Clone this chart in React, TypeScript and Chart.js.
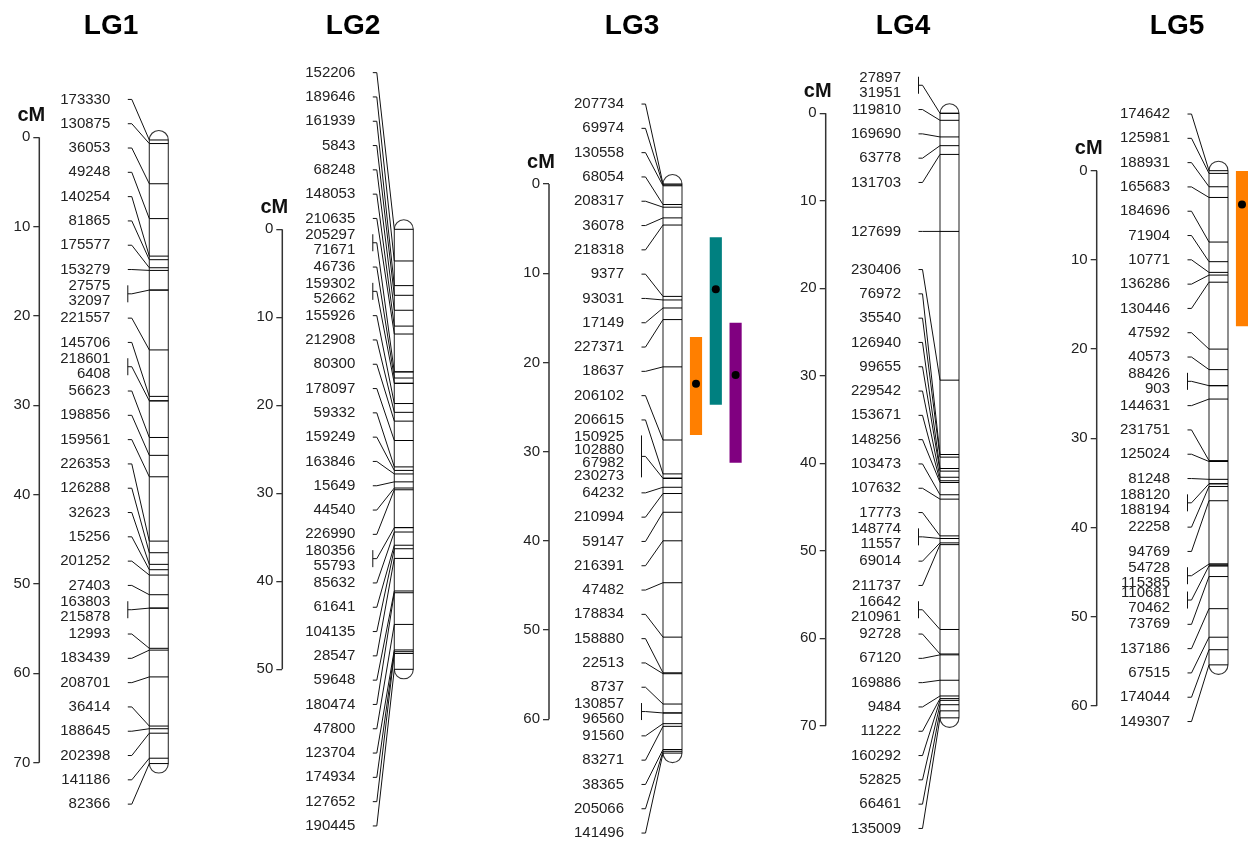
import React, { useEffect, useRef } from "react";
import { Chart, registerables } from "chart.js";
Chart.register(...registerables);

// ---------------- data ----------------
const linkageGroups = ["LG1", "LG2", "LG3", "LG4", "LG5"];
const axisMaxCm = [70, 50, 60, 70, 60];
const axisTickStep = 10;

const lg1Markers = ["173330","130875","36053","49248","140254","81865","175577","153279","27575","32097","221557","145706","218601","6408","56623","198856","159561","226353","126288","32623","15256","201252","27403","163803","215878","12993","183439","208701","36414","188645","202398","141186","82366"];
const lg1Cm = [0.3,0.7,5.2,9.1,13.3,13.7,14.6,14.9,17.1,17.1,23.8,29.0,29.5,29.5,33.6,35.6,38.0,45.2,46.5,47.8,48.4,49.0,51.2,52.7,52.7,57.2,57.4,60.4,65.9,66.2,66.7,69.5,70.1];

const lg2Markers = ["152206","189646","161939","5843","68248","148053","210635","205297","71671","46736","159302","52662","155926","212908","80300","178097","59332","159249","163846","15649","44540","226990","180356","55793","85632","61641","104135","28547","59648","180474","47800","123704","174934","127652","190445"];
const lg2Cm = [0,3.6,6.4,7.5,9.2,11.0,11.9,16.2,16.2,16.9,17.5,17.5,19.8,20.8,21.8,24.0,27.0,27.4,27.8,28.7,29.4,29.6,33.9,33.9,34.4,35.9,36.3,37.4,41.1,41.3,44.9,47.8,48.0,48.2,50.0];

const lg3Markers = ["207734","69974","130558","68054","208317","36078","218318","9377","93031","17149","227371","18637","206102","206615","150925","102880","67982","230273","64232","210994","59147","216391","47482","178834","158880","22513","8737","130857","96560","91560","83271","38365","205066","141496"];
const lg3Cm = [0,0.1,0.2,2.3,2.6,3.8,4.6,12.6,13.0,13.9,15.2,20.5,28.7,32.5,33.0,33.0,33.0,33.0,34.0,34.7,36.8,40.0,44.7,50.8,54.8,54.9,58.3,59.3,59.3,60.5,60.8,63.4,63.6,63.8];

const lg4Markers = ["27897","31951","119810","169690","63778","131703","127699","230406","76972","35540","126940","99655","229542","153671","148256","103473","107632","17773","148774","11557","69014","211737","16642","210961","92728","67120","169886","9484","11222","160292","52825","66461","135009"];
const lg4Cm = [0,0,0.8,2.7,3.7,4.7,13.5,30.5,39.0,39.3,40.6,40.9,41.6,42.0,42.2,43.6,44.1,48.3,48.6,48.6,49.1,49.3,59.0,59.0,61.8,61.9,64.8,66.6,66.9,67.1,67.6,68.3,69.1];

const lg5Markers = ["174642","125981","188931","165683","184696","71904","10771","136286","130446","47592","40573","88426","903","144631","231751","125024","81248","188120","188194","22258","94769","54728","115385","110681","70462","73769","137186","67515","174044","149307"];
const lg5Cm = [0,0.3,1.8,3.0,8.0,10.2,11.4,11.7,12.5,20.0,22.3,24.1,24.1,25.6,32.5,32.6,34.6,35.1,35.1,35.4,37.0,44.1,44.1,44.3,44.3,45.5,49.1,52.3,53.7,55.4];

const markerNames = [lg1Markers, lg2Markers, lg3Markers, lg4Markers, lg5Markers];
const markerCm = [lg1Cm, lg2Cm, lg3Cm, lg4Cm, lg5Cm];

// QTL intervals
const qtlGroup = ["LG3", "LG3", "LG3", "LG5"];
const qtlLowCm = [17.2, 6.0, 15.6, 0.0];
const qtlHighCm = [28.1, 24.7, 31.2, 17.4];
const qtlPeakCm = [22.4, 11.8, 21.4, 3.8];

// ---------------- styles / layout ----------------
const qtlColors = ["#FF7F00", "#008080", "#800080", "#FF7F00"];
const FONT = '"Liberation Sans", Arial, Helvetica, sans-serif';
const PAGE_H = 844;
const PAD_V = 24;
const Y_AXIS_W = 36;
const CHROM_W = 19;
const LABEL_GAP = 24.3;
const TEXT_OFFSET = 39;
const TICK_START = 21.5;
const TICK_END = 17.5;
const QTL_FIRST = 23.5;
const QTL_STEP = 19.8;

const LAYOUT = [
  { axisX: 39.3, y0: 137.3, ppc: 8.934, chromLeft: 149.3, titleX: 111, left: 0, right: 240 },
  { axisX: 282.3, y0: 229.3, ppc: 8.8, chromLeft: 394.3, titleX: 353, left: 240, right: 480 },
  { axisX: 549, y0: 184, ppc: 8.92, chromLeft: 663, titleX: 632, left: 505, right: 760 },
  { axisX: 825.7, y0: 113.3, ppc: 8.749, chromLeft: 940, titleX: 903, left: 782, right: 1005 },
  { axisX: 1096.7, y0: 170.7, ppc: 8.92, chromLeft: 1209, titleX: 1177, left: 1053, right: 1248 },
];

// Spread overlapping labels: overlapping runs are merged and laid out evenly,
// centred on the middle of the span of their marker positions.
function spreadLabels(desired: number[], d: number): number[] {
  type C = { lo: number; hi: number; n: number };
  const cl: C[] = desired.map((v) => ({ lo: v, hi: v, n: 1 }));
  const top = (c: C) => (c.lo + c.hi) / 2 - ((c.n - 1) * d) / 2;
  const bot = (c: C) => (c.lo + c.hi) / 2 + ((c.n - 1) * d) / 2;
  let merged = true;
  while (merged) {
    merged = false;
    for (let i = 0; i < cl.length - 1; i++) {
      if (top(cl[i + 1]) - bot(cl[i]) < d - 1e-9) {
        const a = cl[i], b = cl[i + 1];
        cl.splice(i, 2, { lo: Math.min(a.lo, b.lo), hi: Math.max(a.hi, b.hi), n: a.n + b.n });
        merged = true;
        break;
      }
    }
  }
  const out: number[] = [];
  cl.forEach((c) => {
    for (let k = 0; k < c.n; k++) out.push(top(c) + k * d);
  });
  return out;
}

type Item = { names: string[]; cm: number; y: number };

function LGChart({ idx }: { idx: number }) {
  const ref = useRef<HTMLCanvasElement>(null);
  const L = LAYOUT[idx];
  const width = L.right - L.left;

  useEffect(() => {
    const canvas = ref.current;
    if (!canvas) return;
    const names = markerNames[idx];
    const cms = markerCm[idx];
    const chromCenter = L.chromLeft + CHROM_W / 2;
    const padLeft = L.axisX - L.left - Y_AXIS_W;
    const yMin = (PAD_V - L.y0) / L.ppc;
    const yMax = (PAGE_H - PAD_V - L.y0) / L.ppc;
    const xMin = L.axisX - chromCenter;
    const xMax = L.right - chromCenter;
    const ticks: number[] = [];
    for (let v = 0; v <= axisMaxCm[idx]; v += axisTickStep) ticks.push(v);

    const qIdx = qtlGroup.map((g, i) => (g === linkageGroups[idx] ? i : -1)).filter((i) => i >= 0);
    const trackX = (k: number) => QTL_FIRST + QTL_STEP * k;

    // group markers sharing a position
    const items: Item[] = [];
    cms.forEach((c, i) => {
      const last = items[items.length - 1];
      if (last && last.cm === c) last.names.push(names[i]);
      else items.push({ names: [names[i]], cm: c, y: 0 });
    });

    const decor = {
      id: "lgDecor",
      beforeDatasetsDraw(chart: any) {
        const { ctx, scales } = chart;
        const x = scales.x, y = scales.y;
        const cx = x.getPixelForValue(0);
        const r = CHROM_W / 2;
        const top = y.getPixelForValue(Math.min(...cms));
        const bot = y.getPixelForValue(Math.max(...cms));
        ctx.save();
        ctx.beginPath();
        ctx.moveTo(cx - r, bot);
        ctx.lineTo(cx - r, top);
        ctx.arc(cx, top, r, Math.PI, 0);
        ctx.lineTo(cx + r, bot);
        ctx.arc(cx, bot, r, 0, Math.PI);
        ctx.closePath();
        ctx.fillStyle = "#ffffff";
        ctx.fill();
        ctx.strokeStyle = "#333";
        ctx.lineWidth = 1.1;
        ctx.stroke();
        ctx.restore();
      },
      afterDatasetsDraw(chart: any) {
        const { ctx, scales } = chart;
        const x = scales.x, y = scales.y;
        const cl = x.getPixelForValue(0) - CHROM_W / 2;
        const desired: number[] = [];
        const slots = items.map((it) => Math.ceil(it.names.length / 2));
        items.forEach((it, i) => {
          for (let k = 0; k < slots[i]; k++) desired.push(y.getPixelForValue(it.cm));
        });
        const spread = spreadLabels(desired, LABEL_GAP);
        let p = 0;
        items.forEach((it, i) => {
          let sum = 0;
          for (let k = 0; k < slots[i]; k++) sum += spread[p++];
          it.y = sum / slots[i];
        });
        ctx.save();
        ctx.strokeStyle = "#111";
        ctx.lineWidth = 1;
        ctx.fillStyle = "#222";
        ctx.font = `15px ${FONT}`;
        ctx.textAlign = "right";
        ctx.textBaseline = "middle";
        items.forEach((it) => {
          const my = y.getPixelForValue(it.cm);
          const n = it.names.length;
          const lh = n > 2 ? 13.3 : 15;
          ctx.beginPath();
          ctx.moveTo(cl - TICK_START, it.y);
          ctx.lineTo(cl - TICK_END, it.y);
          ctx.lineTo(cl, my);
          if (n > 1) {
            const h = ((n - 1) * lh) / 2 + 1;
            ctx.moveTo(cl - TICK_START, it.y - h);
            ctx.lineTo(cl - TICK_START, it.y + h);
          }
          ctx.stroke();
          it.names.forEach((nm, j) => {
            ctx.fillText(nm, cl - TEXT_OFFSET, it.y + (j - (n - 1) / 2) * lh);
          });
        });
        ctx.restore();
      },
      afterDraw(chart: any) {
        const { ctx, scales, chartArea } = chart;
        const y = scales.y;
        ctx.save();
        ctx.strokeStyle = "#333";
        ctx.lineWidth = 1.5;
        ctx.beginPath();
        ctx.moveTo(chartArea.left, y.getPixelForValue(0));
        ctx.lineTo(chartArea.left, y.getPixelForValue(axisMaxCm[idx]));
        ctx.stroke();
        ctx.fillStyle = "#111";
        ctx.font = `bold 20px ${FONT}`;
        ctx.textAlign = "center";
        ctx.textBaseline = "middle";
        ctx.fillText("cM", chartArea.left - 8, y.getPixelForValue(0) - 22);
        ctx.fillStyle = "#000";
        ctx.font = `bold 28px ${FONT}`;
        ctx.textBaseline = "alphabetic";
        ctx.fillText(linkageGroups[idx], L.titleX - L.left, 34);
        ctx.restore();
      },
    };

    const datasets: any[] = [
      {
        type: "scatter",
        label: linkageGroups[idx] + " markers",
        data: cms.map((c) => ({ x: 0, y: c })),
        pointStyle: "line",
        pointRadius: CHROM_W / 2,
        pointHoverRadius: CHROM_W / 2,
        pointBorderWidth: 1,
        pointBorderColor: "#000",
        pointBackgroundColor: "#000",
        clip: false,
        order: 3,
      },
      ...qIdx.map((q, k) => ({
        type: "bar",
        label: "QTL " + (q + 1),
        data: [{ x: trackX(k), y: [qtlLowCm[q], qtlHighCm[q]] }],
        backgroundColor: qtlColors[q],
        borderWidth: 0,
        barThickness: 11.5,
        grouped: false,
        order: 2,
      })),
    ];
    if (qIdx.length) {
      datasets.push({
        type: "scatter",
        label: "QTL peaks",
        data: qIdx.map((q, k) => ({ x: trackX(k), y: qtlPeakCm[q] })),
        pointRadius: 4,
        pointHoverRadius: 4,
        pointBackgroundColor: "#000",
        pointBorderWidth: 0,
        clip: false,
        order: 0,
      });
    }

    const chart = new Chart(canvas, {
      type: "scatter",
      data: { datasets },
      options: {
        responsive: false,
        animation: false,
        events: [],
        layout: { autoPadding: false, padding: { left: padLeft, right: 0, top: PAD_V, bottom: PAD_V } },
        plugins: {
          legend: { display: false },
          tooltip: { enabled: false },
          title: { display: false },
        },
        scales: {
          x: { type: "linear", display: false, min: xMin, max: xMax, offset: false, grid: { offset: false } },
          y: {
            type: "linear",
            reverse: true,
            min: yMin,
            max: yMax,
            offset: false,
            beginAtZero: false,
            afterBuildTicks: (s: any) => { s.ticks = ticks.map((v) => ({ value: v })); },
            afterFit: (s: any) => { s.width = Y_AXIS_W; },
            ticks: { font: { family: FONT, size: 15 }, color: "#222", padding: 3, autoSkip: false },
            grid: { drawOnChartArea: false, drawTicks: true, tickLength: 6, color: "#333", lineWidth: 1.3 },
            border: { display: false },
          },
        },
      } as any,
      plugins: [decor as any],
    });
    return () => chart.destroy();
  }, [idx]);

  return (
    <canvas
      ref={ref}
      width={width}
      height={PAGE_H}
      style={{ position: "absolute", left: L.left, top: 0, width, height: PAGE_H }}
    />
  );
}

export default function App() {
  return (
    <div style={{ position: "absolute", left: 0, top: 0, width: 1248, height: PAGE_H, background: "#fff", overflow: "hidden" }}>
      {linkageGroups.map((g, i) => (
        <LGChart key={g} idx={i} />
      ))}
    </div>
  );
}
